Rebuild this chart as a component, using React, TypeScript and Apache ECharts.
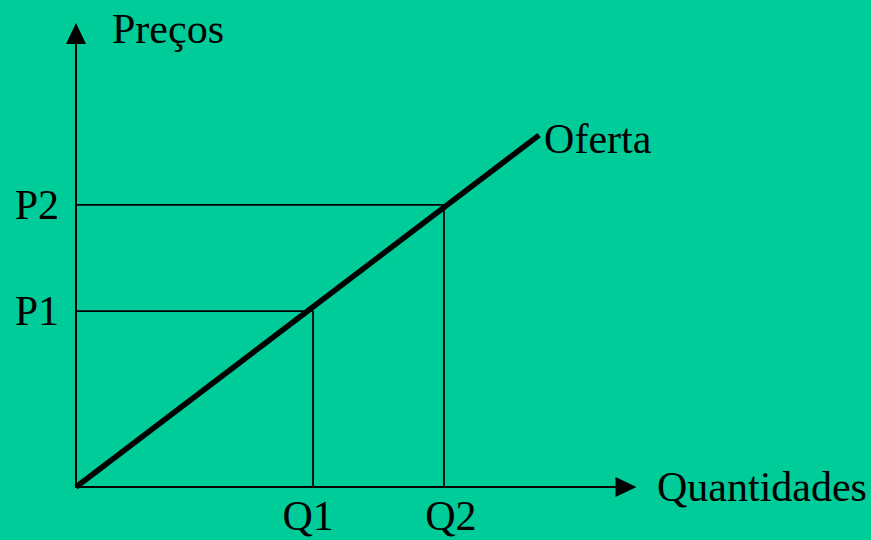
import React, { useEffect, useRef } from "react";
import * as echarts from "echarts";

// Data (arbitrary units)
const quantityLabels = ["Q1", "Q2"];
const quantityValues = [4.31, 6.69];
const priceLabels = ["P1", "P2"];
const priceValues = [3.88, 6.22];
const supplyLine: [number, number][] = [
  [0, 0],
  [8.42, 7.76],
];
const supplyName = "Oferta";
const xAxisName = "Quantidades";
const yAxisName = "Preços";

const FONT = "'Liberation Serif', 'Times New Roman', serif";
const BG = "#00CC99";
const FS = 42;

export default function App() {
  const ref = useRef<HTMLDivElement>(null);

  useEffect(() => {
    if (!ref.current) return;
    const chart = echarts.init(ref.current, undefined, { renderer: "svg" });

    const guideSeries = quantityValues.map((q, i) => ({
      type: "line",
      name: priceLabels[i] + " guide",
      data: [
        [0, priceValues[i]],
        [q, priceValues[i]],
        [q, 0],
      ],
      symbol: "none",
      silent: true,
      lineStyle: { color: "#000", width: 1.8 },
      z: 2,
    }));

    const qStyle = { fontFamily: FONT, fontSize: FS, color: "#000" };

    chart.setOption({
      animation: false,
      backgroundColor: BG,
      textStyle: { fontFamily: FONT, color: "#000" },
      grid: { left: 76, right: 245, top: 33.5, bottom: 53, containLabel: false, outerBoundsMode: "none" },
      xAxis: {
        type: "value",
        min: 0,
        max: 10,
        name: xAxisName,
        nameLocation: "end",
        nameGap: 31,
        nameTextStyle: {
          fontFamily: FONT,
          fontSize: FS,
          color: "#000",
          align: "left",
          verticalAlign: "middle",
          padding: [0, 0, 22, 0],
        },
        axisLine: {
          show: true,
          symbol: ["none", "triangle"],
          symbolSize: [20, 21],
          lineStyle: { color: "#000", width: 2 },
        },
        axisTick: { show: false },
        splitLine: { show: false },
        axisLabel: {
          show: true,
          customValues: quantityValues,
          formatter: (v: number) => {
            const i = quantityValues.indexOf(v);
            return i >= 0 ? `{q${i}|${quantityLabels[i]}}` : "";
          },
          fontFamily: FONT,
          fontSize: FS,
          color: "#000",
          margin: 8,
          rich: {
            q0: { ...qStyle, padding: [0, 10, 0, 0] },
            q1: { ...qStyle, padding: [0, 0, 0, 14] },
          },
        },
      },
      yAxis: {
        type: "value",
        min: 0,
        max: 10,
        name: yAxisName,
        nameLocation: "end",
        nameGap: 5,
        nameTextStyle: {
          fontFamily: FONT,
          fontSize: FS,
          color: "#000",
          align: "left",
          verticalAlign: "middle",
          padding: [0, 0, 0, 36],
        },
        axisLine: {
          show: true,
          symbol: ["none", "triangle"],
          symbolSize: [20, 21],
          lineStyle: { color: "#000", width: 2 },
        },
        axisTick: { show: false },
        splitLine: { show: false },
        axisLabel: {
          show: true,
          customValues: priceValues,
          formatter: (v: number) => {
            const i = priceValues.indexOf(v);
            return i >= 0 ? priceLabels[i] : "";
          },
          fontFamily: FONT,
          fontSize: FS,
          color: "#000",
          margin: 17,
        },
      },
      series: [
        ...guideSeries,
        {
          type: "line",
          name: supplyName,
          data: supplyLine,
          symbol: "none",
          lineStyle: { color: "#000", width: 5.5 },
          z: 3,
          endLabel: {
            show: true,
            formatter: supplyName,
            fontFamily: FONT,
            fontSize: FS,
            color: "#000",
            distance: 5,
            offset: [0, 4],
          },
        },
      ],
    });

    return () => chart.dispose();
  }, []);

  return (
    <div
      ref={ref}
      style={{ position: "absolute", left: 0, top: 0, width: 871, height: 540 }}
    />
  );
}
